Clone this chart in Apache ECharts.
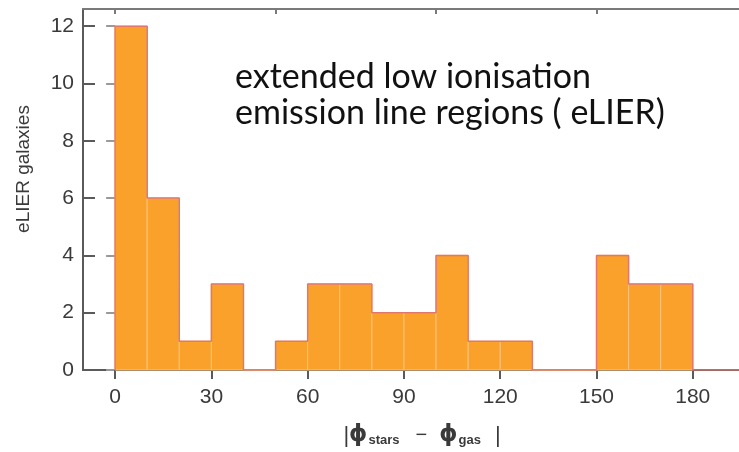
<!DOCTYPE html>
<html>
<head>
<meta charset="utf-8">
<script src="https://cdn.jsdelivr.net/npm/echarts@6/dist/echarts.min.js"></script>
<style>
  html, body { margin: 0; padding: 0; background: #fff; }
  #chart { width: 739px; height: 452px; }
</style>
</head>
<body>
<div id="chart"></div>
<script>
// Histogram of misalignment angle between stars and gas, 10-degree bins
const binWidth = 10;
const binStarts = [0, 10, 20, 30, 40, 50, 60, 70, 80, 90, 100, 110, 120, 130, 140, 150, 160, 170];
const counts = [12, 6, 1, 3, 0, 1, 3, 3, 2, 2, 4, 1, 1, 0, 0, 4, 3, 3];
const xTickLabels = [0, 30, 60, 90, 120, 150, 180];
const xTopTicks = [0, 50, 100, 150];
const yTickLabels = [0, 2, 4, 6, 8, 10, 12];
const yTitle = 'eLIER galaxies';
// a zero-width non-joiner keeps Lato from fusing "ti" into a ligature
const noteLines = ['extended low ionisa\u200Ction', 'emission line regions ( eLIER)'];

const X_MIN = -10, X_MAX = 194.4, Y_MAX = 12.6;

const barData = binStarts.map((s, i) => [s, s + binWidth, counts[i]]);

// step outline running over the top of the bins and along the empty ones
const outline = [[binStarts[0], 0]];
binStarts.forEach((s, i) => {
  outline.push([s, counts[i]]);
  outline.push([s + binWidth, counts[i]]);
});
outline.push([binStarts[binStarts.length - 1] + binWidth, 0]);
outline.push([X_MAX, 0]);

const axisGray = '#5a5a5a';
const frameGray = '#7a7a7a';
const labelFont = { fontFamily: 'Liberation Sans', fontSize: 21, color: '#3a3a3a' };

const chart = echarts.init(document.getElementById('chart'), null, { renderer: 'canvas' });
chart.setOption({
  animation: false,
  backgroundColor: '#fff',
  grid: { left: 83, top: 9, width: 661, height: 362, containLabel: false },
  xAxis: [{
    type: 'value', min: X_MIN, max: X_MAX, position: 'bottom',
    splitLine: { show: false },
    axisLine: { show: true, onZero: false, lineStyle: { color: axisGray, width: 2 } },
    axisTick: { show: true, inside: false, length: 9, customValues: xTickLabels, lineStyle: { color: axisGray, width: 2 } },
    axisLabel: Object.assign({ show: true, customValues: xTickLabels, margin: 17 }, labelFont),
    name: '{b||}{p|ϕ}{s|stars}{m|−}{p|ϕ}{s|gas}{e||}',
    nameLocation: 'middle', nameGap: 54,
    nameTextStyle: {
      rich: {
        b: { fontFamily: 'Liberation Sans', fontSize: 22, color: '#3a3a3a', padding: [0, 0, 0, 22] },
        e: { fontFamily: 'Liberation Sans', fontSize: 22, color: '#3a3a3a', padding: [0, 0, 0, 14] },
        m: { fontFamily: 'Liberation Sans', fontSize: 20, color: '#3a3a3a', padding: [0, 12, 0, 16] },
        p: { fontFamily: 'DejaVu Sans', fontSize: 23, fontWeight: 'bold', color: '#3a3a3a' },
        s: { fontFamily: 'Liberation Sans', fontSize: 13, fontWeight: 'bold', color: '#3a3a3a', verticalAlign: 'bottom', padding: [9, 0, 0, 1] }
      }
    }
  }, {
    type: 'value', min: X_MIN, max: X_MAX, position: 'top',
    splitLine: { show: false },
    axisLine: { show: true, onZero: false, lineStyle: { color: frameGray, width: 2 } },
    axisTick: { show: true, inside: true, length: 5, customValues: xTopTicks, lineStyle: { color: frameGray, width: 2 } },
    axisLabel: { show: false }
  }],
  yAxis: [{
    type: 'value', min: 0, max: Y_MAX, position: 'left',
    splitLine: { show: false },
    axisLine: { show: true, onZero: false, lineStyle: { color: axisGray, width: 2 } },
    axisTick: { show: true, inside: true, length: 12, customValues: yTickLabels, lineStyle: { color: axisGray, width: 2 } },
    axisLabel: Object.assign({ show: true, customValues: yTickLabels, margin: 9 }, labelFont)
  }, {
    type: 'value', min: 0, max: Y_MAX, position: 'right',
    splitLine: { show: false },
    axisLine: { show: false },
    axisTick: { show: true, inside: true, length: 9, customValues: yTickLabels, lineStyle: { color: '#9a9a9a', width: 2 } },
    axisLabel: { show: false }
  }],
  series: [{
    type: 'custom',
    xAxisIndex: 0, yAxisIndex: 0,
    data: barData,
    renderItem: function (params, api) {
      const p0 = api.coord([api.value(0), api.value(2)]);
      const p1 = api.coord([api.value(1), 0]);
      return {
        type: 'rect',
        shape: { x: p0[0], y: p0[1], width: p1[0] - p0[0], height: p1[1] - p0[1] },
        style: { fill: '#f9a12a', stroke: '#fcc27c', lineWidth: 1 }
      };
    },
    z: 2
  }, {
    type: 'line',
    xAxisIndex: 0, yAxisIndex: 0,
    data: outline,
    symbol: 'none',
    lineStyle: { color: '#e0766c', width: 1.5 },
    z: 3
  }],
  graphic: [{
    type: 'text',
    x: 24, y: 169,
    rotation: Math.PI / 2,
    style: {
      text: yTitle, fontFamily: 'Liberation Sans', fontSize: 19, fill: '#3a3a3a',
      align: 'center', verticalAlign: 'middle'
    }
  }].concat(noteLines.map((t, i) => ({
    type: 'text',
    left: 235,
    top: 60 + i * 36,
    style: { text: t, fontFamily: 'Lato', fontSize: 34, fill: '#111' }
  })))
});
</script>
</body>
</html>
